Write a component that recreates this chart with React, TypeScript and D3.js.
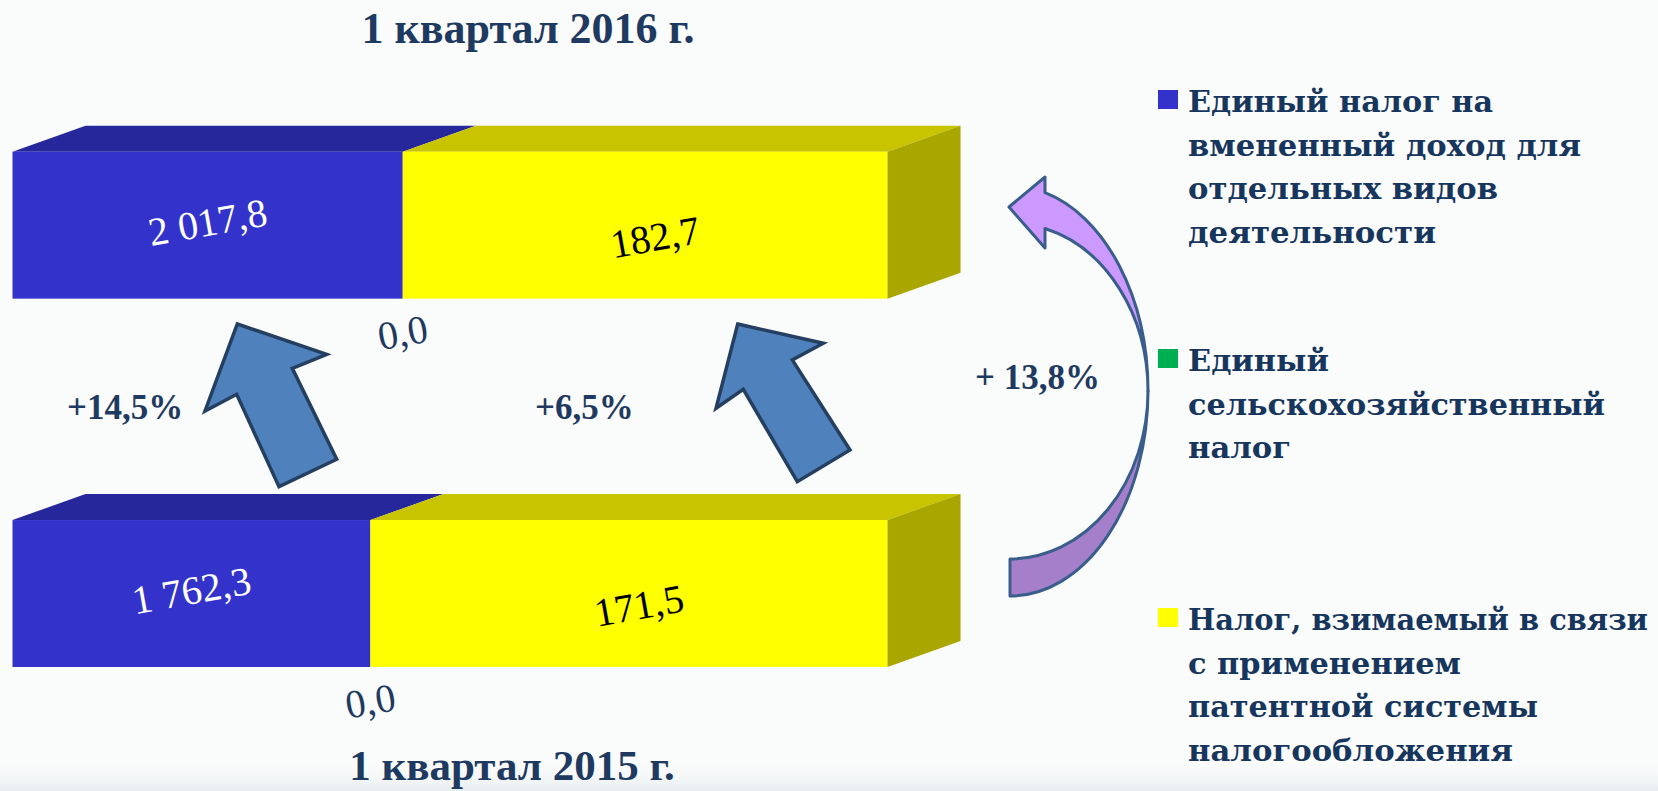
import React from "react";
import * as d3 from "d3";

// ---- data ----
const quarters = ["1 квартал 2016 г.", "1 квартал 2015 г."];
const seriesNames = [
  "Единый налог на вмененный доход для отдельных видов деятельности",
  "Единый сельскохозяйственный налог",
  "Налог, взимаемый в связи с применением патентной системы налогообложения",
];
const envdValues = [2017.8, 1762.3];
const eshnValues = [0.0, 0.0];
const patentValues = [182.7, 171.5];
// share of the bar length taken by each series, % (as drawn in the picture)
const envdShare = [44.6, 40.9];
const eshnShare = [0, 0];
const growthLabels = ["+14,5%", "+6,5%", "+ 13,8%"];
const legendLines = [
  ["Единый налог на", "вмененный доход для", "отдельных видов", "деятельности"],
  ["Единый", "сельскохозяйственный", "налог"],
  ["Налог, взимаемый в связи", "с применением", "патентной системы", "налогообложения"],
];
const legendWidths = [
  [305, 393, 310, 248],
  [141, 417, 103],
  [460, 273, 350, 325],
];

// ---- style ----
const W = 1658;
const H = 791;
const navy = "#1F3A60";
const frontColors = ["#3333CC", "#00B050", "#FFFF00"];
const topColors = ["#27279C", "#008A3C", "#C8C400"];
const sideColors = ["#22228A", "#007A35", "#A9A600"];
const depthX = 73;
const depthY = -26;
const fmt = (v: number) => {
  const s = v.toFixed(1).replace(".", ",");
  const [i, f] = s.split(",");
  return i.replace(/\B(?=(\d{3})+(?!\d))/g, " ") + "," + f;
};

export default function App() {
  const x = d3.scaleLinear().domain([0, 100]).range([12.5, 887.5]);
  const y = d3
    .scaleBand<string>()
    .domain(quarters)
    .range([151.7, 667])
    .paddingInner(0.601)
    .paddingOuter(0);
  const bh = y.bandwidth();

  const rows = quarters.map((q, i) => {
    const s0 = 0;
    const s1 = envdShare[i];
    const s2 = s1 + eshnShare[i];
    const s3 = 100;
    const segs = [
      { k: 0, a: s0, b: s1, v: envdValues[i] },
      { k: 1, a: s1, b: s2, v: eshnValues[i] },
      { k: 2, a: s2, b: s3, v: patentValues[i] },
    ];
    return { q, i, top: y(q) as number, segs };
  });

  const poly = (pts: [number, number][]) => {
    const p = d3.path();
    pts.forEach(([px, py], j) => (j === 0 ? p.moveTo(px, py) : p.lineTo(px, py)));
    p.closePath();
    return p.toString();
  };

  // straight block arrows (annotation shapes)
  const blockArrows: [number, number][][] = [
    [
      [237.3, 324],
      [326.7, 354.3],
      [292.3, 368.3],
      [336.7, 459.3],
      [279, 486.7],
      [236.7, 394.3],
      [205, 411],
    ],
    [
      [737.7, 324],
      [823.3, 343.3],
      [792.3, 360],
      [850, 450],
      [797.3, 481.7],
      [743.3, 389.3],
      [716, 408.3],
    ],
  ];

  // curved arrow geometry
  const cx = 1010,
    cy = 391,
    rx = 138,
    ryO = 205,
    ryI = 168;
  const baseX = 1045;
  const t = Math.sqrt(1 - ((baseX - cx) / rx) ** 2);
  const outerBase: [number, number] = [baseX, cy - ryO * t];
  const innerBase: [number, number] = [baseX, cy - ryI * t];
  const mid: [number, number] = [cx + rx, cy];
  const upperPath =
    `M${outerBase[0]},${outerBase[1]} A${rx},${ryO} 0 0 1 ${mid[0]},${mid[1]} ` +
    `A${rx},${ryI} 0 0 0 ${innerBase[0]},${innerBase[1]} ` +
    `L${baseX},248 L1009,207 L${baseX},177 Z`;
  const lowerPath =
    `M${mid[0]},${mid[1]} A${rx},${ryO} 0 0 1 ${cx},${cy + ryO} ` +
    `L${cx},${cy + ryI} A${rx},${ryI} 0 0 0 ${mid[0]},${mid[1]} Z`;

  const legendY = [112, 371, 630];
  const lineH = 43.6;

  return (
    <svg
      width={W}
      height={H}
      style={{ position: "absolute", left: 0, top: 0, display: "block" }}
    >
      <defs>
        <linearGradient id="bgBottom" x1="0" y1="0" x2="0" y2="1">
          <stop offset="0" stopColor="#FAFBFB" stopOpacity={0} />
          <stop offset="1" stopColor="#E6EDEF" stopOpacity={1} />
        </linearGradient>
      </defs>
      <rect x={0} y={0} width={W} height={H} fill="#FAFBFB" />
      <rect x={0} y={760} width={W} height={31} fill="url(#bgBottom)" />

      {/* titles */}
      <text
        x={528}
        y={43}
        textAnchor="middle"
        fontFamily="'Liberation Serif', 'Times New Roman', serif"
        fontWeight="bold"
        fontSize={44}
        fill={navy}
      >
        {quarters[0]}
      </text>
      <text
        x={512}
        y={780}
        textAnchor="middle"
        fontFamily="'Liberation Serif', 'Times New Roman', serif"
        fontWeight="bold"
        fontSize={43}
        fill={navy}
      >
        {quarters[1]}
      </text>

      {/* 3D bars */}
      {rows.map((r) => (
        <g key={r.q}>
          {r.segs.map((s) => {
            const x0 = x(s.a);
            const x1 = x(s.b);
            const top = r.top;
            return (
              <g key={s.k}>
                {x1 > x0 && (
                  <>
                    <path
                      d={poly([
                        [x0, top],
                        [x0 + depthX, top + depthY],
                        [x1 + depthX, top + depthY],
                        [x1, top],
                      ])}
                      fill={topColors[s.k]}
                    />
                    <rect x={x0} y={top} width={x1 - x0} height={bh} fill={frontColors[s.k]} />
                  </>
                )}
                {s.k === 2 && (
                  <path
                    d={poly([
                      [x1, top],
                      [x1 + depthX, top + depthY],
                      [x1 + depthX, top + bh + depthY],
                      [x1, top + bh],
                    ])}
                    fill={sideColors[s.k]}
                  />
                )}
              </g>
            );
          })}
          {r.segs.map((s) => {
            const x0 = x(s.a);
            const x1 = x(s.b);
            if (s.k === 1) {
              const lx = x0;
              const ly = r.top + bh + 34;
              return (
                <text
                  key={"l" + s.k}
                  transform={`translate(${lx},${ly}) rotate(-10)`}
                  textAnchor="middle"
                  dominantBaseline="central"
                  fontFamily="'Liberation Serif', 'Times New Roman', serif"
                  fontSize={40}
                  fill={navy}
                >
                  {fmt(s.v)}
                </text>
              );
            }
            const lx = (x0 + x1) / 2 + (s.k === 2 ? 10 : 0);
            const ly = r.top + bh / 2 + (s.k === 2 ? 12 : -3);
            return (
              <text
                key={"l" + s.k}
                transform={`translate(${lx},${ly}) rotate(-10)`}
                textAnchor="middle"
                dominantBaseline="central"
                fontFamily="'Liberation Serif', 'Times New Roman', serif"
                fontSize={40}
                fill={s.k === 0 ? "#FFFFFF" : "#000000"}
              >
                {fmt(s.v)}
              </text>
            );
          })}
        </g>
      ))}

      {/* block arrows */}
      {blockArrows.map((pts, i) => (
        <path
          key={i}
          d={poly(pts)}
          fill="#4F81BD"
          stroke="#243F60"
          strokeWidth={3.5}
          strokeLinejoin="miter"
        />
      ))}

      {/* curved arrow */}
      <path d={lowerPath} fill="#A67FCB" stroke="#3A5E8C" strokeWidth={3} strokeLinejoin="round" />
      <path d={upperPath} fill="#CC99FF" stroke="#3A5E8C" strokeWidth={3} strokeLinejoin="round" />

      {/* growth labels */}
      {[
        [67, 419],
        [535, 419],
        [975, 389],
      ].map(([lx, ly], i) => (
        <text
          key={i}
          x={lx}
          y={ly}
          fontFamily="'Liberation Serif', 'Times New Roman', serif"
          fontWeight="bold"
          fontSize={35}
          fill={navy}
        >
          {growthLabels[i]}
        </text>
      ))}

      {/* legend */}
      {seriesNames.map((name, i) => (
        <g key={name}>
          <rect x={1158} y={legendY[i] - 22} width={20} height={19} fill={frontColors[i]} />
          {legendLines[i].map((line, j) => (
            <text
              key={j}
              x={1188}
              y={legendY[i] + j * lineH}
              fontFamily="'DejaVu Serif', serif"
              fontWeight="bold"
              fontSize={30}
              fill="#17365D"
              textLength={legendWidths[i][j]}
              lengthAdjust="spacingAndGlyphs"
            >
              {line}
            </text>
          ))}
        </g>
      ))}
    </svg>
  );
}
